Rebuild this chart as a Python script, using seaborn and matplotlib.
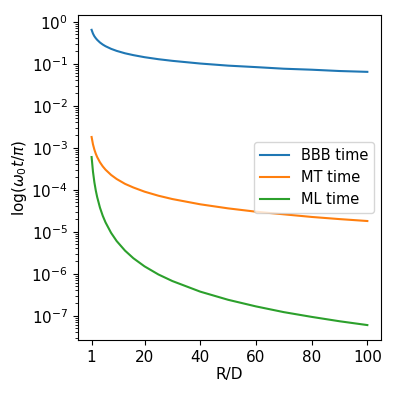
import numpy as np
import pandas as pd
import matplotlib
matplotlib.use("Agg")
import matplotlib.pyplot as plt
import seaborn as sns

plt.rcParams['font.size'] = 11

# values (R/D vs. time)
r_over_d = [1, 1.5, 2, 2.5, 3, 4, 5, 6, 8, 10, 13, 16, 20, 25, 30, 40, 50, 60, 70, 80, 90, 100]
bbb_time = [0.64, 0.52, 0.45, 0.405, 0.37, 0.32, 0.286, 0.261, 0.226, 0.202, 0.177, 0.160, 0.143,
            0.128, 0.117, 0.101, 0.090, 0.083, 0.076, 0.072, 0.067, 0.064]
mt_time = [1.8e-3, 1.2e-3, 9e-4, 7.2e-4, 6e-4, 4.5e-4, 3.6e-4, 3e-4, 2.25e-4, 1.8e-4, 1.38e-4,
           1.13e-4, 9e-5, 7.2e-5, 6e-5, 4.5e-5, 3.6e-5, 3e-5, 2.6e-5, 2.25e-5, 2e-5, 1.8e-5]
ml_time = [6e-4, 2.67e-4, 1.5e-4, 9.6e-5, 6.7e-5, 3.75e-5, 2.4e-5, 1.67e-5, 9.4e-6, 6e-6, 3.55e-6,
           2.34e-6, 1.5e-6, 9.6e-7, 6.7e-7, 3.75e-7, 2.4e-7, 1.67e-7, 1.22e-7, 9.4e-8, 7.4e-8, 6e-8]

df = pd.DataFrame({
    'R/D': r_over_d * 3,
    'time': bbb_time + mt_time + ml_time,
    'kind': ['BBB time'] * len(r_over_d) + ['MT time'] * len(r_over_d) + ['ML time'] * len(r_over_d),
})

fig, ax = plt.subplots(figsize=(3.97, 3.97), dpi=100)
fig.subplots_adjust(left=0.196, right=0.96, top=0.962, bottom=0.144)

sns.lineplot(data=df, x='R/D', y='time', hue='kind', ax=ax,
             palette=['#1f77b4', '#ff7f0e', '#2ca02c'])
ax.set_yscale('log')
ax.set_xticks([1, 20, 40, 60, 80, 100])
ax.set_xlabel('R/D', labelpad=2)
ax.set_ylabel(r'log($\omega_0 t/\pi$)', labelpad=2)
ax.legend(title=None, loc='center right', fontsize=10.5)

fig.savefig('out.png', dpi=100)
